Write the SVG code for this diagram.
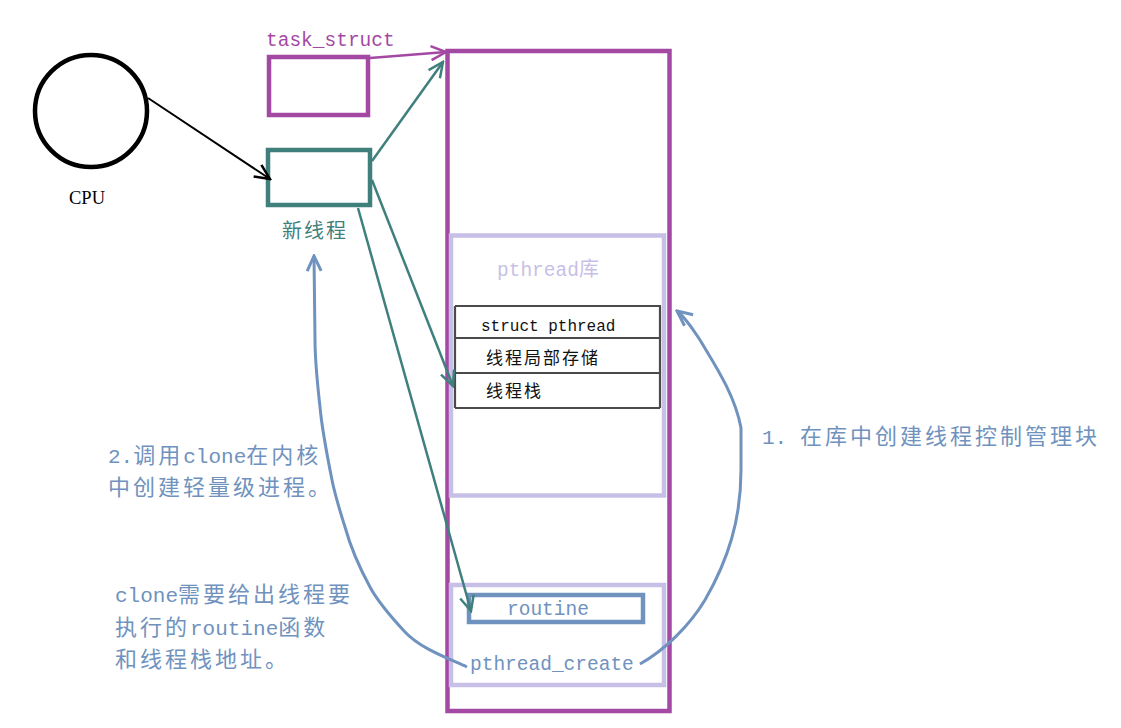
<svg xmlns="http://www.w3.org/2000/svg" width="1121" height="728" viewBox="0 0 1121 728">
<style>
.mono{font-family:"Liberation Mono",monospace;font-size:19.5px}
.cjk{font-family:"Noto Sans CJK SC",sans-serif}
.note{font-family:"Noto Sans CJK SC",sans-serif;font-size:22px;letter-spacing:3px;fill:#7092be}
.lat{font-family:"Liberation Mono",monospace;font-size:21px;letter-spacing:0}
.purple{stroke:#a349a4}
.teal{stroke:#3f807d}
.blue{stroke:#7092be}
.lav{stroke:#c8bfe7}
.box{fill:none;stroke-width:4.5}
.line{fill:none;stroke-width:2.5}
.tbl{fill:none;stroke:#4a4a4a;stroke-width:2.2}
</style>
<defs>
<marker id="ah-black" viewBox="0 0 20 20" refX="18" refY="10" markerWidth="20" markerHeight="20" markerUnits="userSpaceOnUse" orient="auto"><path d="M3,3 L18,10 L3,17" fill="none" stroke="#000" stroke-width="2.5"/></marker>
<marker id="ah-teal" viewBox="0 0 20 20" refX="18" refY="10" markerWidth="20" markerHeight="20" markerUnits="userSpaceOnUse" orient="auto"><path d="M3,3 L18,10 L3,17" fill="none" stroke="#3f807d" stroke-width="2.5"/></marker>
<marker id="ah-purple" viewBox="0 0 20 20" refX="18" refY="10" markerWidth="20" markerHeight="20" markerUnits="userSpaceOnUse" orient="auto"><path d="M3,3 L18,10 L3,17" fill="none" stroke="#a349a4" stroke-width="2.5"/></marker>
<marker id="ah-blue" viewBox="0 0 20 20" refX="18" refY="10" markerWidth="20" markerHeight="20" markerUnits="userSpaceOnUse" orient="auto"><path d="M3,3 L18,10 L3,17" fill="none" stroke="#7092be" stroke-width="3"/></marker>
</defs>
<rect width="1121" height="728" fill="#fff"/>

<g id="cpu">
<circle cx="91" cy="111" r="56" fill="none" stroke="#000" stroke-width="4.5"/>
<text x="69" y="204" font-family="Liberation Serif,serif" font-size="18.5" fill="#000">CPU</text>
</g>

<g id="task_struct">
<rect class="box purple" x="269" y="57" width="99" height="58"/>
<text class="mono" x="266" y="46" fill="#a349a4">task_struct</text>
</g>

<g id="new_thread">
<rect class="box teal" x="268" y="150" width="102" height="55"/>
<text class="cjk" x="282" y="238" font-size="20" letter-spacing="2" fill="#3f807d">新线程</text>
</g>

<g id="address_space">
<rect class="box purple" x="447.5" y="51" width="222" height="660"/>
</g>

<g id="pthread_lib">
<rect class="box lav" x="451" y="235.5" width="213" height="260"/>
<text x="497" y="276" fill="#c8bfe7"><tspan class="mono">pthread</tspan><tspan class="cjk" font-size="20">库</tspan></text>
</g>

<g id="struct_pthread">
<path class="tbl" d="M455,306 L661,306 M455,338 L660,338 M455,373 L660,373 M455,408 L660,408 M455,306 L455,408 M660,306 L660,408"/>
<text x="481" y="331" font-family="Liberation Mono,monospace" font-size="16" fill="#111">struct pthread</text>
<text class="cjk" x="486" y="364" font-size="17" letter-spacing="2" fill="#111">线程局部存储</text>
<text class="cjk" x="486" y="397" font-size="17" letter-spacing="2" fill="#111">线程栈</text>
</g>

<g id="pthread_create_block">
<rect class="box lav" x="451" y="585" width="213" height="100"/>
<text class="mono" x="470" y="670" fill="#7092be">pthread_create</text>
</g>

<g id="routine">
<rect class="box blue" x="469" y="595" width="174" height="27"/>
<text class="mono" x="507" y="615" fill="#7092be">routine</text>
</g>

<g id="connectors">
<path d="M148,98 L270,179" fill="none" stroke="#000" stroke-width="2" marker-end="url(#ah-black)"/>
<path class="line purple" d="M370,58 L446,52" marker-end="url(#ah-purple)"/>
<path class="line teal" d="M372,161 L443,62" marker-end="url(#ah-teal)"/>
<path class="line teal" d="M372,180 L453,386" marker-end="url(#ah-teal)"/>
<path class="line teal" d="M358,208 L471,611" marker-end="url(#ah-teal)"/>
<path d="M640,664 C665,650 690,625 705,600 C728,560 741,520 741,470 L741,428 C735,395 715,365 700,340 C692,328 686,318 677,311" fill="none" stroke="#7092be" stroke-width="3" marker-end="url(#ah-blue)"/>
<path d="M467,667 C445,657 420,648 405,632 C392,618 378,602 370,587 C358,565 350,545 345,527 C338,505 334,490 332,480 C326,450 322,430 320,407 C317,380 315,360 315,340 L314,256" fill="none" stroke="#7092be" stroke-width="3" marker-end="url(#ah-blue)"/>
</g>

<g id="notes">
<text class="note" x="762" y="444" font-size="23"><tspan class="lat">1.</tspan><tspan x="800" letter-spacing="3">在库中创建线程控制管理块</tspan></text>
<text class="note" x="108" y="463"><tspan class="lat">2.</tspan>调用<tspan class="lat">clone</tspan>在内核</text>
<text class="note" x="108" y="495">中创建轻量级进程。</text>
<text class="note" x="115" y="602"><tspan class="lat">clone</tspan>需要给出线程要</text>
<text class="note" x="115" y="635">执行的<tspan class="lat">routine</tspan>函数</text>
<text class="note" x="115" y="667">和线程栈地址。</text>
</g>
</svg>
